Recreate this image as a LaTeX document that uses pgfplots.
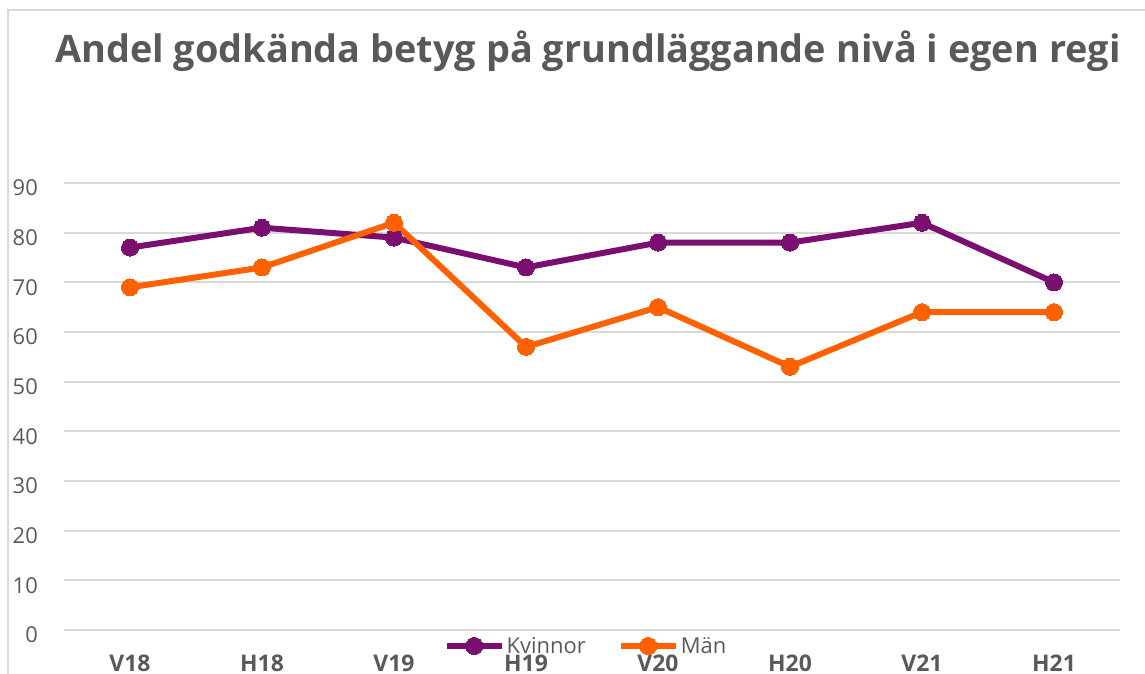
\documentclass[border=0pt]{standalone}
\usepackage{fontspec}
\setmainfont{Open Sans}
\usepackage{pgfplots}
\pgfplotsset{compat=1.18}
\definecolor{kv}{RGB}{123,15,112}
\definecolor{ma}{RGB}{255,96,0}
\definecolor{gridgray}{RGB}{217,217,217}
\definecolor{txt}{RGB}{89,89,89}
\begin{document}
\begin{tikzpicture}
\useasboundingbox (-64bp,-44bp) rectangle (1081bp,630bp);
\begin{axis}[
  at={(0,0)}, anchor=south west,
  scale only axis, width=1056bp, height=447bp,
  xmin=-0.5, xmax=7.5, ymin=0, ymax=90,
  axis line style={draw=none},
  major tick length=0pt,
  xtick={0,...,7},
  xticklabels={V18,H18,V19,H19,V20,H20,V21,H21},
  ytick={0,10,...,90},
  ymajorgrids,
  major grid style={color=gridgray, line width=1.8bp},
  /pgf/number format/assume math mode=true,
  xticklabel style={font=\fontsize{23}{26}\selectfont\bfseries, text=txt, anchor=north, inner sep=0pt, yshift=-25bp},
  yticklabel style={font=\fontsize{22}{26}\selectfont, text=txt, anchor=east, inner sep=0pt, xshift=-26bp, yshift=-5bp},
  legend style={at={(522/1056,-16/447)}, anchor=center, draw=none, fill=none,
    font=\fontsize{22}{26}\selectfont, text=txt, legend columns=2,
    /tikz/every even column/.append style={column sep=30bp},
    nodes={inner sep=2bp}},
  legend cell align=left,
  legend image code/.code={\draw[mark repeat=2,mark phase=2] plot coordinates {(0bp,0bp) (27.5bp,0bp) (55bp,0bp)};},
]
\addplot[color=kv, line width=6bp, mark=*, mark size=8.5bp, mark options={solid, fill=kv, line width=0pt}]
  coordinates {(0,77) (1,81) (2,79) (3,73) (4,78) (5,78) (6,82) (7,70)};
\addlegendentry{Kvinnor}
\addplot[color=ma, line width=6bp, mark=*, mark size=8.5bp, mark options={solid, fill=ma, line width=0pt}]
  coordinates {(0,69) (1,73) (2,82) (3,57) (4,65) (5,53) (6,64) (7,64)};
\addlegendentry{Män}
\end{axis}
\draw[gridgray, line width=2bp] (-56bp,-44bp) -- (-56bp,620bp) -- (1081bp,620bp);
\node[anchor=base, inner sep=0pt, text=txt, font=\fontsize{38}{43}\selectfont\bfseries] at (524bp,567bp) {Andel godkända betyg på grundläggande nivå i egen regi};
\end{tikzpicture}
\end{document}
